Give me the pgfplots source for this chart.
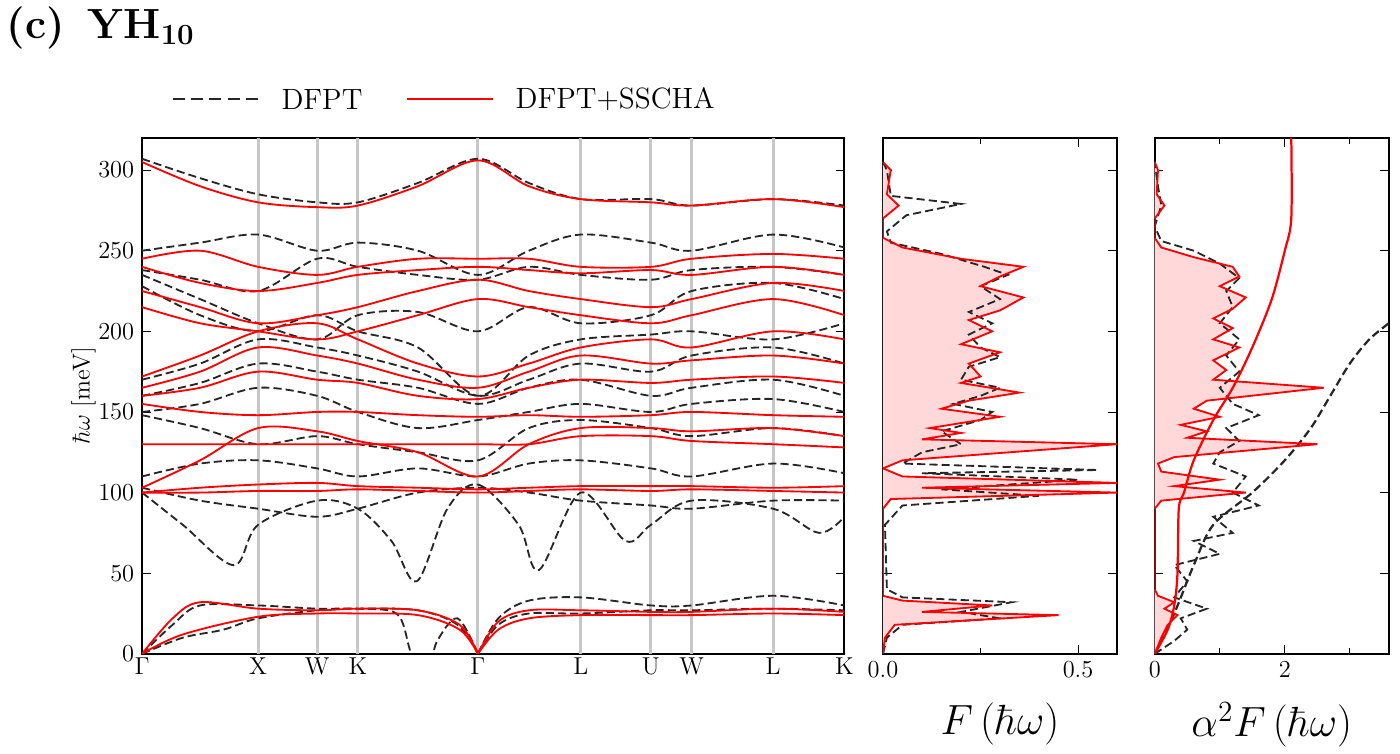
\documentclass[border=0pt]{standalone}
\usepackage{pgfplots}
\pgfplotsset{compat=1.18}
\begin{document}
\begin{tikzpicture}
\pgfplotsset{
  every axis/.append style={scale only axis, height=253.5pt, ymin=0, ymax=320, line width=1.1pt, tick style={black,thin}, tick align=inside, font=\large},
  bk/.style={black!85, line width=0.9pt, smooth, tension=0.55, forget plot, dash pattern=on 4pt off 2pt},
  rd/.style={red, line width=0.9pt, smooth, tension=0.55, forget plot},
}
\begin{axis}[name=main, at={(0pt,0pt)}, anchor=south west, width=345pt, xmin=0, xmax=690,
  xtick={0,114,172,212,330,431,500,540,620,690},
  xticklabels={$\Gamma$,X,W,K,$\Gamma$,L,U,W,L,K},
  ytick={0,50,100,150,200,250,300},
  ylabel={$\hbar\omega$ [meV]}, ylabel style={yshift=-6pt},
  xtick style={draw=none}, xticklabel style={yshift=2pt}]
\foreach \xx in {114,172,212,330,431,500,540,620} {\edef\t{\noexpand\draw[gray!45,line width=1.5pt] (axis cs:\xx,0)--(axis cs:\xx,320);}\t}
% black dashed bands
\addplot[bk] coordinates {(0,307)(57,295)(114,285)(172,280)(212,280)(271,292)(330,307)(380,292)(431,282)(500,282)(540,278)(620,282)(690,278)};
\addplot[bk] coordinates {(0,250)(57,255)(114,260)(172,250)(212,255)(271,250)(330,235)(380,250)(431,260)(500,255)(540,250)(620,260)(690,252)};
\addplot[bk] coordinates {(0,238)(57,232)(114,225)(172,245)(212,240)(271,235)(330,232)(380,240)(431,235)(500,232)(540,238)(620,240)(690,235)};
\addplot[bk] coordinates {(0,235)(57,220)(114,205)(172,195)(212,210)(271,212)(330,200)(380,215)(431,205)(500,210)(540,225)(620,230)(690,220)};
\addplot[bk] coordinates {(0,228)(57,210)(114,200)(172,210)(212,200)(271,190)(330,160)(380,185)(431,195)(500,198)(540,200)(620,195)(690,205)};
\addplot[bk] coordinates {(0,170)(57,180)(114,195)(172,190)(212,185)(271,175)(330,160)(380,170)(431,180)(500,175)(540,185)(620,190)(690,180)};
\addplot[bk] coordinates {(0,160)(57,168)(114,180)(172,175)(212,170)(271,165)(330,155)(380,165)(431,170)(500,160)(540,165)(620,170)(690,160)};
\addplot[bk] coordinates {(0,150)(57,155)(114,165)(172,160)(212,150)(271,140)(330,145)(380,150)(431,155)(500,150)(540,155)(620,158)(690,150)};
\addplot[bk] coordinates {(0,148)(57,140)(114,130)(172,135)(212,130)(271,125)(330,120)(380,140)(431,145)(500,140)(540,135)(620,140)(690,135)};
\addplot[bk] coordinates {(0,110)(57,118)(114,120)(172,115)(212,110)(271,115)(330,110)(380,118)(431,120)(500,115)(540,110)(620,118)(690,112)};
\addplot[bk] coordinates {(0,100)(40,80)(90,55)(114,80)(172,95)(212,90)(245,70)(270,45)(300,90)(330,105)(370,80)(390,52)(431,100)(475,70)(500,80)(540,95)(620,90)(665,75)(690,85)};
\addplot[bk] coordinates {(0,103)(57,95)(114,90)(172,85)(212,90)(271,100)(330,103)(380,100)(431,95)(500,92)(540,90)(620,95)(690,95)};
\addplot[bk] coordinates {(0,0)(30,18)(57,30)(114,30)(172,28)(212,28)(250,25)(262,5)(265,-5)};
\addplot[bk] coordinates {(285,-5)(290,8)(310,22)(330,0)};
\addplot[bk] coordinates {(0,0)(40,10)(80,15)(114,22)(172,27)(212,28)(271,27)(310,18)(330,0)};
\addplot[bk] coordinates {(330,0)(350,22)(380,33)(431,35)(500,30)(540,30)(620,36)(690,30)};
\addplot[bk] coordinates {(330,0)(350,18)(380,25)(431,25)(500,27)(540,27)(620,28)(690,27)};
% red bands
\addplot[rd] coordinates {(0,305)(57,290)(114,280)(172,277)(212,278)(271,290)(330,306)(380,290)(431,282)(500,280)(540,278)(620,282)(690,277)};
\addplot[rd] coordinates {(0,245)(57,250)(114,240)(172,235)(212,240)(271,245)(330,245)(380,245)(431,240)(500,240)(540,245)(620,248)(690,245)};
\addplot[rd] coordinates {(0,240)(57,230)(114,225)(172,230)(212,235)(271,238)(330,240)(380,238)(431,236)(500,238)(540,235)(620,240)(690,235)};
\addplot[rd] coordinates {(0,225)(57,215)(114,205)(172,210)(212,215)(271,225)(330,232)(380,225)(431,220)(500,215)(540,220)(620,230)(690,225)};
\addplot[rd] coordinates {(0,215)(57,205)(114,200)(172,195)(212,200)(271,210)(330,220)(380,215)(431,210)(500,205)(540,210)(620,220)(690,210)};
\addplot[rd] coordinates {(0,172)(57,185)(114,200)(172,205)(212,195)(271,180)(330,172)(380,180)(431,190)(500,195)(540,190)(620,200)(690,195)};
\addplot[rd] coordinates {(0,165)(57,175)(114,190)(172,185)(212,180)(271,170)(330,165)(380,175)(431,185)(500,180)(540,182)(620,185)(690,180)};
\addplot[rd] coordinates {(0,160)(57,165)(114,175)(172,170)(212,168)(271,160)(330,158)(380,165)(431,170)(500,168)(540,170)(620,172)(690,168)};
\addplot[rd] coordinates {(0,155)(57,150)(114,148)(172,150)(212,150)(271,148)(330,147)(380,148)(431,147)(500,148)(540,150)(620,148)(690,147)};
\addplot[rd] coordinates {(0,130)(57,130)(114,130)(172,130)(212,130)(271,130)(330,130)(380,130)(431,135)(500,135)(540,132)(620,130)(690,128)};
\addplot[rd] coordinates {(0,103)(57,120)(114,140)(172,138)(212,132)(271,125)(330,110)(380,130)(431,140)(500,140)(540,138)(620,140)(690,135)};
\addplot[rd] coordinates {(0,100)(57,103)(114,105)(172,106)(212,104)(271,103)(330,102)(380,103)(431,104)(500,104)(540,104)(620,103)(690,104)};
\addplot[rd] coordinates {(0,100)(57,100)(114,101)(172,101)(212,102)(271,101)(330,100)(380,101)(431,102)(500,101)(540,102)(620,101)(690,100)};
\addplot[rd] coordinates {(0,0)(30,22)(57,32)(114,28)(172,27)(212,28)(271,27)(312,18)(330,0)};
\addplot[rd] coordinates {(0,0)(40,12)(114,23)(172,25)(212,25)(271,24)(312,15)(330,0)};
\addplot[rd] coordinates {(330,0)(350,20)(380,27)(431,27)(500,26)(540,26)(620,28)(690,26)};
\addplot[rd] coordinates {(330,0)(350,15)(380,22)(431,24)(500,24)(540,24)(620,25)(690,24)};
\end{axis}
% legend
\draw[black!85,line width=1.1pt,dash pattern=on 6pt off 3pt] (15pt,272.5pt)--(57.5pt,272.5pt);
\node[anchor=west,font=\Large] at (65pt,272.5pt) {DFPT};
\draw[red,line width=1.1pt] (130pt,272.5pt)--(172.5pt,272.5pt);
\node[anchor=west,font=\Large] at (180pt,272.5pt) {DFPT+SSCHA};
\node[anchor=west,font=\huge\bfseries] at (-70pt,307.5pt) {(c)\, YH$_{\mathbf{10}}$};
\path (618pt,0pt);
% DOS
\begin{axis}[at={(364pt,0pt)}, anchor=south west, width=115pt, xmin=0, xmax=0.6, xtick={0,0.5}, minor xtick={0.25},
  xticklabels={0.0,0.5}, ytick={0,50,100,150,200,250,300}, yticklabels={},
  xlabel={\huge $F\,(\hbar\omega)$}, xlabel style={yshift=-5pt}]
\addplot[fill=red!15, draw=none] coordinates {(0,0)(0.005,10)(0.03,18)(0.45,24)(0.1,26)(0.28,30)(0.05,33)(0,36)(0,90)(0.02,96)(0.6,100)(0.1,103)(0.6,106)(0.05,110)(0,115)(0.05,120)(0.6,130)(0.1,133)(0.2,137)(0.12,140)(0.3,147)(0.15,152)(0.22,157)(0.35,162)(0.2,168)(0.25,172)(0.22,180)(0.3,187)(0.2,192)(0.28,200)(0.22,207)(0.3,213)(0.36,221)(0.25,228)(0.3,234)(0.36,240)(0.2,245)(0.05,252)(0,258)(0,270)(0.04,278)(0.01,285)(0.02,300)(0,305)} \closedcycle;
\addplot[black!85, dash pattern=on 4pt off 2pt, line width=0.9pt] coordinates {(0,0)(0.01,10)(0.05,18)(0.3,22)(0.2,26)(0.33,32)(0.05,35)(0.01,40)(0.005,80)(0.05,92)(0.4,98)(0.15,102)(0.5,108)(0.1,112)(0.55,114)(0.05,118)(0.1,125)(0.2,130)(0.15,138)(0.25,145)(0.28,150)(0.18,155)(0.25,160)(0.3,165)(0.2,170)(0.22,178)(0.3,184)(0.25,190)(0.22,198)(0.28,205)(0.22,212)(0.3,220)(0.25,228)(0.32,235)(0.26,240)(0.15,248)(0.02,255)(0.01,262)(0.06,272)(0.2,279)(0.02,284)(0.01,300)(0,305)};
\addplot[red, line width=0.9pt] coordinates {(0,0)(0.005,10)(0.03,18)(0.45,24)(0.1,26)(0.28,30)(0.05,33)(0,36)(0,90)(0.02,96)(0.6,100)(0.1,103)(0.6,106)(0.05,110)(0,115)(0.05,120)(0.6,130)(0.1,133)(0.2,137)(0.12,140)(0.3,147)(0.15,152)(0.22,157)(0.35,162)(0.2,168)(0.25,172)(0.22,180)(0.3,187)(0.2,192)(0.28,200)(0.22,207)(0.3,213)(0.36,221)(0.25,228)(0.3,234)(0.36,240)(0.2,245)(0.05,252)(0,258)(0,270)(0.04,278)(0.01,285)(0.02,300)(0,305)};
\end{axis}
% a2F
\begin{axis}[at={(497.5pt,0pt)}, anchor=south west, width=115pt, xmin=0, xmax=3.6, xtick={0,2}, minor xtick={1,3},
  ytick={0,50,100,150,200,250,300}, yticklabels={},
  xlabel={\huge $\alpha^2F\,(\hbar\omega)$}, xlabel style={yshift=-5pt}]
\addplot[fill=red!15, draw=none] coordinates {(0,0)(0.1,10)(0.2,18)(0.35,24)(0.15,28)(0.3,32)(0.05,36)(0,40)(0,90)(0.1,95)(1.4,100)(0.3,104)(1.0,108)(0.1,113)(0.05,118)(0.3,122)(2.5,130)(0.5,134)(0.8,138)(0.4,142)(1.0,147)(0.6,152)(0.8,157)(2.6,165)(0.9,170)(1.1,176)(0.9,182)(1.3,190)(0.9,195)(1.2,202)(0.9,208)(1.2,214)(1.4,221)(1.0,228)(1.3,234)(1.2,240)(0.6,246)(0.1,252)(0,258)(0,270)(0.15,278)(0.03,285)(0.05,300)(0,305)} \closedcycle;
\addplot[black!85, dash pattern=on 4pt off 2pt, line width=0.9pt] coordinates {(0,0)(0.3,8)(0.5,15)(0.4,22)(0.8,28)(0.3,35)(0.5,45)(0.3,55)(1.0,62)(0.6,70)(1.2,75)(0.9,85)(1.6,92)(1.2,100)(1.4,110)(0.9,118)(1.0,125)(1.3,132)(1.1,140)(1.6,148)(1.2,155)(1.0,165)(1.3,175)(1.1,185)(1.3,195)(1.0,205)(1.2,215)(1.1,225)(1.3,233)(1.0,242)(0.6,250)(0.1,256)(0,265)(0.1,278)(0.05,290)(0,305)};
\addplot[black!85, dash pattern=on 4pt off 2pt, line width=1.1pt, smooth] coordinates {(0,0)(0.3,25)(0.6,55)(0.9,80)(1.5,100)(2.0,120)(2.4,140)(2.7,160)(3.0,180)(3.3,195)(3.6,205)};
\addplot[red, line width=0.9pt] coordinates {(0,0)(0.1,10)(0.2,18)(0.35,24)(0.15,28)(0.3,32)(0.05,36)(0,40)(0,90)(0.1,95)(1.4,100)(0.3,104)(1.0,108)(0.1,113)(0.05,118)(0.3,122)(2.5,130)(0.5,134)(0.8,138)(0.4,142)(1.0,147)(0.6,152)(0.8,157)(2.6,165)(0.9,170)(1.1,176)(0.9,182)(1.3,190)(0.9,195)(1.2,202)(0.9,208)(1.2,214)(1.4,221)(1.0,228)(1.3,234)(1.2,240)(0.6,246)(0.1,252)(0,258)(0,270)(0.15,278)(0.03,285)(0.05,300)(0,305)};
\addplot[red, line width=1.1pt, smooth] coordinates {(0,0)(0.2,15)(0.3,30)(0.35,50)(0.37,90)(0.45,100)(0.6,120)(0.9,145)(1.2,165)(1.5,190)(1.8,220)(2.0,250)(2.1,270)(2.1,320)};
\end{axis}
\end{tikzpicture}
\end{document}
